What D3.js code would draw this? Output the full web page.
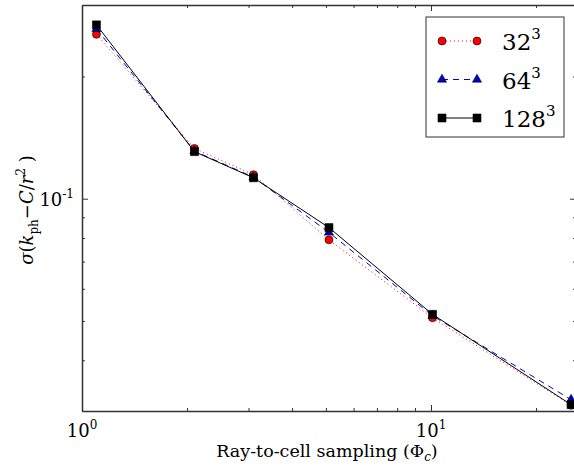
<!DOCTYPE html>
<html>
<head>
<meta charset="utf-8">
<script src="https://cdn.jsdelivr.net/npm/d3@7"></script>
<style>
  body { margin: 0; background: #fff; }
  .axis path, .axis line { stroke: #333; }
</style>
</head>
<body>
<svg id="chart" width="574" height="466"></svg>
<script>
// values
let sampling = [1.1, 2.1, 3.1, 5.1, 10.1, 25.2];
let sigma32 = [0.254, 0.133, 0.1146, 0.0792, 0.0509, 0.031];
let sigma64 = [0.262, 0.131, 0.113, 0.0826, 0.0515, 0.032];
let sigma128 = [0.268, 0.1306, 0.1126, 0.0849, 0.0519, 0.0311];
let seriesNames = ["32", "64", "128"];
let xMajor = [1, 10];
let yMajor = [0.1];

let margin = { left: 82, top: 5 };
let plotW = 494, plotH = 406;
let serif = "DejaVu Serif";

let svg = d3.select("#chart");

let x = d3.scaleLog()
    .domain([1, Math.pow(10, plotW / 349)])
    .range([margin.left, margin.left + plotW]);

let y = d3.scaleLog()
    .domain([0.03, 0.3])
    .range([margin.top + plotH, margin.top]);

let xMinor = x.ticks().filter(function (d) { return xMajor.indexOf(d) < 0 });
let yMinor = y.ticks().filter(function (d) { return Math.abs(d - 0.1) > 1e-9 });

// ticks point inwards on every side
function drawAxis(axisFn, scale, transform, majors, minors) {
    svg.append("g").attr("class", "axis")
        .attr("transform", transform)
        .call(axisFn(scale).tickValues(minors).tickSize(-3).tickFormat(""))
        .call(function (g) { g.select(".domain").remove() });
    svg.append("g").attr("class", "axis")
        .attr("transform", transform)
        .call(axisFn(scale).tickValues(majors).tickSize(-6).tickSizeOuter(0).tickFormat(""))
        .call(function (g) { g.select(".domain").attr("stroke-width", 1.5) });
}

drawAxis(d3.axisBottom, x, "translate(0," + (margin.top + plotH) + ")", xMajor, xMinor);
drawAxis(d3.axisTop, x, "translate(0," + margin.top + ")", xMajor, xMinor);
drawAxis(d3.axisLeft, y, "translate(" + margin.left + ",0)", yMajor, yMinor);
drawAxis(d3.axisRight, y, "translate(" + (margin.left + plotW) + ",0)", yMajor, yMinor);

// tick labels as 10^n
xMajor.forEach(function (v) {
    let t = svg.append("text")
        .attr("x", x(v))
        .attr("y", margin.top + plotH + 26)
        .attr("text-anchor", "middle")
        .attr("font-family", serif)
        .attr("font-size", 18);
    t.append("tspan").text("10");
    t.append("tspan").attr("dy", -8).attr("font-size", 12).text(Math.round(Math.log10(v)));
});

yMajor.forEach(function (v) {
    let t = svg.append("text")
        .attr("x", margin.left - 8)
        .attr("y", y(v) + 7)
        .attr("text-anchor", "end")
        .attr("font-family", serif)
        .attr("font-size", 18);
    t.append("tspan").text("10");
    t.append("tspan").attr("dy", -8).attr("font-size", 12).text(Math.round(Math.log10(v)));
});

// axis titles
let xl = svg.append("text")
    .attr("x", 327)
    .attr("y", 457)
    .attr("text-anchor", "middle")
    .attr("font-family", serif)
    .attr("font-size", 17.5);
xl.append("tspan").text("Ray-to-cell sampling (Φ");
xl.append("tspan").attr("font-style", "italic").attr("font-size", 12).attr("dy", 4).text("c");
xl.append("tspan").attr("dy", -4).text(")");

let yl = svg.append("text")
    .attr("transform", "translate(33,210)rotate(-90)")
    .attr("text-anchor", "middle")
    .attr("font-family", serif)
    .attr("font-size", 18);
yl.append("tspan").attr("font-style", "italic").text("σ");
yl.append("tspan").text("(");
yl.append("tspan").attr("font-style", "italic").text("k");
yl.append("tspan").attr("font-size", 12).attr("dy", 5).text("ph");
yl.append("tspan").attr("dy", -5).text("−");
yl.append("tspan").attr("font-style", "italic").text("C");
yl.append("tspan").text("/");
yl.append("tspan").attr("font-style", "italic").text("r");
yl.append("tspan").attr("font-size", 12).attr("dy", -8).text("2");
yl.append("tspan").attr("dy", 8).text(" )");

// series
let series = [
    { name: seriesNames[0], values: sigma32, color: "#ff0000", dash: "1,3", shape: d3.symbolCircle, size: 50 },
    { name: seriesNames[1], values: sigma64, color: "#0000cc", dash: "6,5", shape: d3.symbolTriangle, size: 36 },
    { name: seriesNames[2], values: sigma128, color: "#000000", dash: null, shape: d3.symbolSquare, size: 64 }
];

let line = d3.line()
    .x(function (d) { return x(d[0]) })
    .y(function (d) { return y(d[1]) });

let plot = svg.append("g");

series.forEach(function (s) {
    let pts = d3.zip(sampling, s.values);
    plot.append("path")
        .datum(pts)
        .attr("d", line)
        .attr("fill", "none")
        .attr("stroke", s.color)
        .attr("stroke-width", 1)
        .attr("stroke-dasharray", s.dash);
    plot.selectAll(null)
        .data(pts)
        .enter()
        .append("path")
        .attr("d", d3.symbol().type(s.shape).size(s.size))
        .attr("transform", function (d) { return "translate(" + x(d[0]) + "," + y(d[1]) + ")" })
        .attr("fill", s.color)
        .attr("stroke", "#000")
        .attr("stroke-width", 0.6);
});

// legend
let legend = svg.append("g");
legend.append("rect")
    .attr("x", 426).attr("y", 17)
    .attr("width", 138).attr("height", 120)
    .attr("fill", "#fff")
    .attr("stroke", "#333")
    .attr("stroke-width", 1);

series.forEach(function (s, i) {
    let ly = 41 + i * 38.5;
    legend.append("line")
        .attr("x1", 442).attr("x2", 477)
        .attr("y1", ly).attr("y2", ly)
        .attr("stroke", s.color)
        .attr("stroke-width", 1)
        .attr("stroke-dasharray", s.dash);
    [442, 477].forEach(function (mx) {
        legend.append("path")
            .attr("d", d3.symbol().type(s.shape).size(s.size))
            .attr("transform", "translate(" + mx + "," + ly + ")")
            .attr("fill", s.color)
            .attr("stroke", "#000")
            .attr("stroke-width", 0.6);
    });
    let t = legend.append("text")
        .attr("x", 502)
        .attr("y", ly + 9)
        .attr("font-family", serif)
        .attr("font-size", 23);
    t.append("tspan").text(s.name);
    t.append("tspan").attr("dy", -11).attr("font-size", 15).text("3");
});
</script>
</body>
</html>
